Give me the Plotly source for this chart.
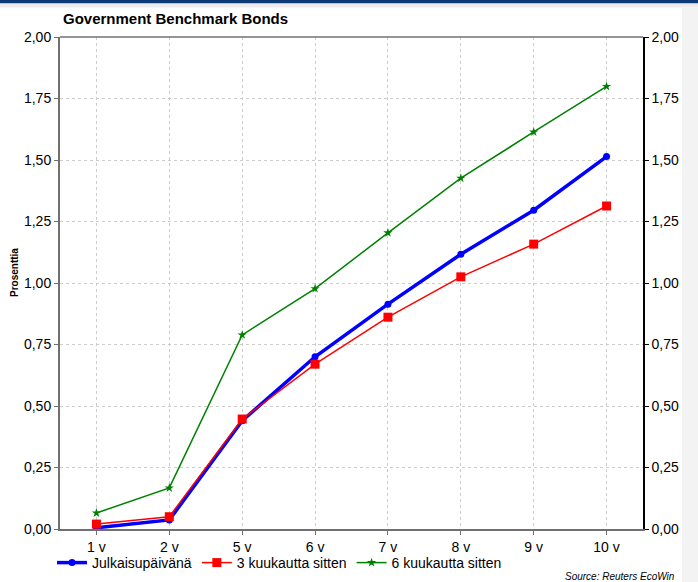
import plotly.graph_objects as go

# Maturities and yields (%)
maturities = ["1 v", "2 v", "5 v", "6 v", "7 v", "8 v", "9 v", "10 v"]
julkaisupaivana = [0.005, 0.037, 0.44, 0.70, 0.914, 1.117, 1.296, 1.514]
kk3_sitten = [0.02, 0.05, 0.447, 0.67, 0.861, 1.025, 1.158, 1.313]
kk6_sitten = [0.065, 0.167, 0.789, 0.977, 1.204, 1.426, 1.614, 1.799]

y_ticks = [0, 0.25, 0.5, 0.75, 1.0, 1.25, 1.5, 1.75, 2.0]
y_ticktext = [f"{v:.2f}".replace(".", ",") for v in y_ticks]

W, H = 698, 582
L, R, T, B = 60, 643, 37, 529
FONT = "Liberation Sans, Arial, sans-serif"


def px(x):
    return (x - L) / (R - L)


def py(y):
    return (B - y) / (B - T)


fig = go.Figure()

fig.add_trace(go.Scatter(
    x=maturities, y=julkaisupaivana, name="Julkaisupäivänä",
    mode="lines+markers", line=dict(color="#0000ff", width=3.5),
    marker=dict(symbol="circle", size=7, color="#0000ff"),
))
fig.add_trace(go.Scatter(
    x=maturities, y=kk3_sitten, name="3 kuukautta sitten",
    mode="lines+markers", line=dict(color="#ff0000", width=1.5),
    marker=dict(symbol="square", size=9, color="#ff0000"),
))
fig.add_trace(go.Scatter(
    x=maturities, y=kk6_sitten, name="6 kuukautta sitten",
    mode="lines+markers", line=dict(color="#008000", width=1.5),
    marker=dict(symbol="star", size=7, color="#008000"),
))
# carries the right-hand value axis
fig.add_trace(go.Scatter(
    x=maturities, y=julkaisupaivana, yaxis="y2", mode="lines",
    line=dict(width=0), hoverinfo="skip", showlegend=False,
))

axis_font = dict(family=FONT, size=14, color="#000000")

fig.update_layout(
    width=W, height=H,
    margin=dict(l=L, r=W - R, t=T, b=H - B, autoexpand=False),
    paper_bgcolor="#ffffff", plot_bgcolor="#ffffff",
    font=dict(family=FONT, size=14, color="#000000"),
    showlegend=True,
    legend=dict(
        orientation="h", x=px(52), xanchor="left", y=py(563), yanchor="middle",
        font=dict(family=FONT, size=14, color="#000000"),
        bgcolor="rgba(0,0,0,0)", itemwidth=30, tracegroupgap=0,
    ),
    xaxis=dict(
        type="category", range=[-0.5, 7.5], tickfont=axis_font,
        showgrid=True, gridcolor="#cccccc", griddash="dot", gridwidth=1,
        showline=True, linecolor="#707070", linewidth=2,
        ticks="outside", ticklen=4, tickcolor="#707070",
        mirror=False, zeroline=False, fixedrange=True,
    ),
    yaxis=dict(
        range=[0, 2], tickvals=y_ticks, ticktext=y_ticktext, tickfont=axis_font,
        showgrid=True, gridcolor="#cccccc", griddash="dot", gridwidth=1,
        showline=True, linecolor="#707070", linewidth=2,
        ticks="outside", ticklen=4, tickcolor="#707070",
        zeroline=False, fixedrange=True,
    ),
    yaxis2=dict(
        range=[0, 2], tickvals=y_ticks, ticktext=y_ticktext, tickfont=axis_font,
        overlaying="y", side="right", showgrid=False,
        showline=True, linecolor="#000000", linewidth=1.5,
        ticks="outside", ticklen=4, tickcolor="#000000",
        zeroline=False, fixedrange=True,
    ),
    shapes=[
        # header bars
        dict(type="rect", xref="paper", yref="paper", x0=px(0), x1=px(W),
             y0=py(0), y1=py(3.5), fillcolor="#0d3a75", line_width=0, layer="below"),
        dict(type="rect", xref="paper", yref="paper", x0=px(0), x1=px(W),
             y0=py(3.5), y1=py(7.5), fillcolor="#ececec", line_width=0, layer="below"),
        # right margin strip
        dict(type="rect", xref="paper", yref="paper", x0=px(682), x1=px(W),
             y0=py(7.5), y1=py(H), fillcolor="#f3f3f3", line_width=0, layer="below"),
        # top frame line
        dict(type="line", xref="paper", yref="paper", x0=0, x1=1, y0=1, y1=1,
             line=dict(color="#707070", width=1.5)),
    ],
    annotations=[
        dict(text="<b>Government Benchmark Bonds</b>", xref="paper", yref="paper",
             x=px(61), y=py(18), xanchor="left", yanchor="middle", showarrow=False,
             font=dict(family=FONT, size=15, color="#000000")),
        dict(text="<b>Prosenttia</b>", xref="paper", yref="paper",
             x=px(14), y=py(273), xanchor="center", yanchor="middle", showarrow=False,
             textangle=-90, font=dict(family=FONT, size=10, color="#000000")),
        dict(text="<i>Source: Reuters EcoWin</i>", xref="paper", yref="paper",
             x=px(677), y=py(576), xanchor="right", yanchor="middle", showarrow=False,
             font=dict(family=FONT, size=10, color="#000000")),
    ],
)

fig.write_html("out.html")
